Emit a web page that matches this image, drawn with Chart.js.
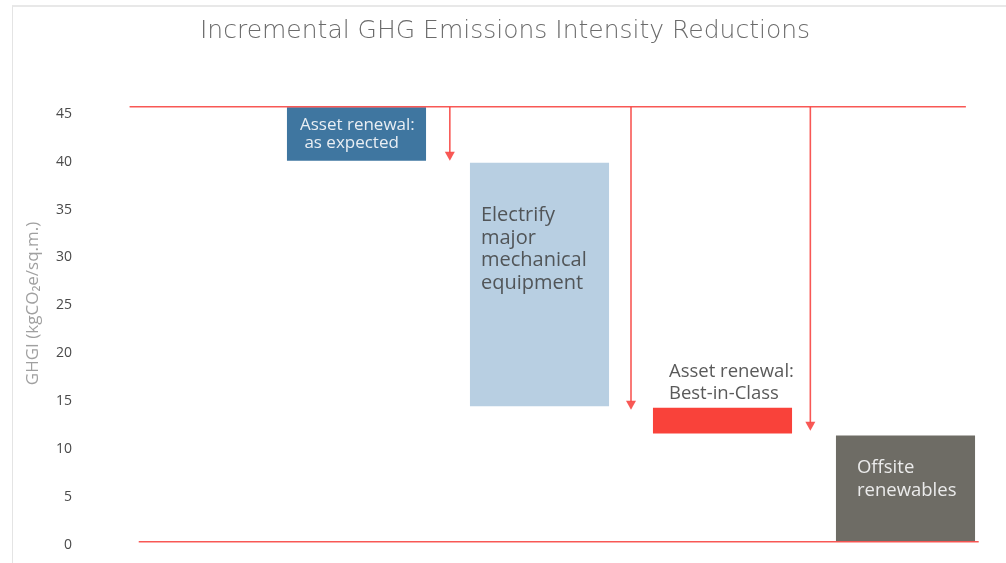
<!DOCTYPE html>
<html>
<head>
<meta charset="utf-8">
<script src="https://cdn.jsdelivr.net/npm/chart.js@4/dist/chart.umd.min.js"></script>
<style>
  html, body { margin: 0; padding: 0; background: #fff; overflow: hidden; }
  #wrap { position: relative; width: 1006px; height: 563px; }
  #frame { position: absolute; left: 12px; top: 5px; width: 1100px; height: 700px;
           border-left: 1px solid #e4e4e4; border-top: 2px solid #e8e8e8; pointer-events: none; }
</style>
</head>
<body>
<div id="wrap">
  <canvas id="chart" width="1006" height="563"></canvas>
  <div id="frame"></div>
</div>
<script>
// values
const categories = ['Baseline', 'Asset renewal: as expected', 'Electrify major mechanical equipment',
                    'Asset renewal: Best-in-Class', 'Offsite renewables'];
const barLow  = [null, 40.1, 14.45, 11.6, 0.35];
const barHigh = [null, 45.7, 39.9, 14.3, 11.4];
const barColors = ['#ffffff', '#3f76a0', '#b8cfe2', '#f9423a', '#6e6c65'];

// text on / above each bar
const barText = [
  [],
  ['Asset renewal:', ' as expected'],
  ['Electrify', 'major', 'mechanical', 'equipment'],
  ['Asset renewal:', 'Best-in-Class'],
  ['Offsite', 'renewables']
];

// red reference lines and drop arrows
const topLineY = 45.75;
const topLineFrom = -0.24, topLineTo = 4.33;
const bottomLineY = 0.3;
const bottomLineFrom = -0.19, bottomLineTo = 4.40;
const arrowX = [1.51, 2.5, 3.48];
const arrowTo = [40.1, 14.1, 11.9];

const yTicks = [0, 5, 10, 15, 20, 25, 30, 35, 40, 45];
const yTitle = 'GHGI (kgCO₂e/sq.m.)';
const yTitleAt = 25.2; // value at which the axis title is centred

const FONT = '"Open Sans", "Noto Sans", sans-serif';
const RED = 'rgba(247, 70, 66, 0.9)';

const overlay = {
  id: 'overlay',
  afterDatasetsDraw(chart) {
    const ctx = chart.ctx;
    const x = chart.scales.x, y = chart.scales.y;
    ctx.save();
    ctx.strokeStyle = RED;
    ctx.fillStyle = RED;
    ctx.lineWidth = 1.6;

    // horizontal lines
    ctx.beginPath();
    ctx.moveTo(x.getPixelForValue(topLineFrom), y.getPixelForValue(topLineY));
    ctx.lineTo(x.getPixelForValue(topLineTo), y.getPixelForValue(topLineY));
    ctx.moveTo(x.getPixelForValue(bottomLineFrom), y.getPixelForValue(bottomLineY));
    ctx.lineTo(x.getPixelForValue(bottomLineTo), y.getPixelForValue(bottomLineY));
    ctx.stroke();

    // arrows
    arrowX.forEach((v, i) => {
      const px = x.getPixelForValue(v);
      const y0 = y.getPixelForValue(topLineY);
      const y1 = y.getPixelForValue(arrowTo[i]);
      ctx.beginPath();
      ctx.moveTo(px, y0);
      ctx.lineTo(px, y1 - 8);
      ctx.stroke();
      ctx.beginPath();
      ctx.moveTo(px - 5, y1 - 9);
      ctx.lineTo(px + 5, y1 - 9);
      ctx.lineTo(px, y1);
      ctx.closePath();
      ctx.fill();
    });

    // bar labels
    const meta = chart.getDatasetMeta(0);
    ctx.textBaseline = 'middle';
    ctx.textAlign = 'left';
    meta.data.forEach((bar, i) => {
      const lines = barText[i];
      if (!lines.length) return;
      const left = bar.x - bar.width / 2;
      const top = Math.min(bar.y, bar.base);
      if (i === 1) {
        ctx.font = '17px ' + FONT;
        ctx.fillStyle = '#e9eef3';
        lines.forEach((t, k) => ctx.fillText(t, left + 13, top + 18 + k * 18));
      } else if (i === 2) {
        ctx.font = '20px ' + FONT;
        ctx.fillStyle = '#515558';
        lines.forEach((t, k) => ctx.fillText(t, left + 11, top + 53 + k * 22.5));
      } else if (i === 3) {
        ctx.font = '18.5px ' + FONT;
        ctx.fillStyle = '#5a5a5a';
        lines.forEach((t, k) => ctx.fillText(t, left + 16, top - 36 + k * 22));
      } else if (i === 4) {
        ctx.font = '18.5px ' + FONT;
        ctx.fillStyle = '#ebebeb';
        lines.forEach((t, k) => ctx.fillText(t, left + 21, top + 32 + k * 23));
      }
    });

    // y axis title
    ctx.translate(33, y.getPixelForValue(yTitleAt));
    ctx.rotate(-Math.PI / 2);
    ctx.textAlign = 'center';
    ctx.font = '17px ' + FONT;
    ctx.fillStyle = '#a0a0a0';
    ctx.fillText(yTitle, 0, 0);
    ctx.restore();
  }
};

new Chart(document.getElementById('chart'), {
  type: 'bar',
  data: {
    labels: categories,
    datasets: [{
      data: barLow.map((lo, i) => lo === null ? null : [lo, barHigh[i]]),
      backgroundColor: barColors,
      borderWidth: 0,
      borderSkipped: false,
      categoryPercentage: 1,
      barPercentage: 0.76
    }]
  },
  options: {
    responsive: false,
    animation: false,
    layout: { padding: { left: 13, right: 9, top: 0, bottom: 16 } },
    plugins: {
      legend: { display: false },
      tooltip: { enabled: false },
      title: {
        display: true,
        text: 'Incremental GHG Emissions Intensity Reductions',
        color: '#6b6b6b',
        font: { family: '"DejaVu Sans", sans-serif', size: 25, weight: '200' },
        padding: { top: 16, bottom: 58.4 }
      }
    },
    scales: {
      x: { display: false },
      y: {
        min: 0,
        max: 46,
        afterBuildTicks(scale) { scale.ticks = yTicks.map(v => ({ value: v })); },
        afterFit(scale) { scale.width = 69; },
        grid: { display: false, drawTicks: false },
        border: { display: false },
        ticks: { color: '#4a4a4a', padding: 10, font: { family: FONT, size: 14 } },
        title: { display: false }
      }
    }
  },
  plugins: [overlay]
});
</script>
</body>
</html>
